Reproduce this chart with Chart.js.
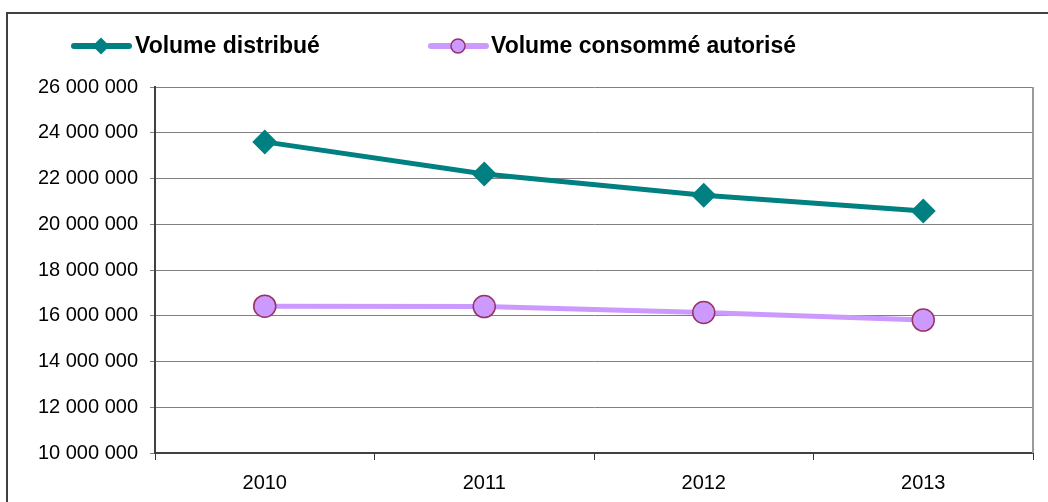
<!DOCTYPE html>
<html lang="fr">
<head>
  <meta charset="UTF-8">
  <title>Volume distribué / consommé</title>
  <script src="https://cdn.jsdelivr.net/npm/chart.js"></script>
  <style>
    body { margin: 0; background: #fff; }
    #wrap { position: relative; width: 1048px; height: 502px; overflow: hidden; }
    #frame { position: absolute; left: 6px; top: 12px; width: 1100px; height: 600px; border: 2px solid #404040; box-sizing: border-box; }
    canvas { position: absolute; left: 0; top: 0; }
  </style>
</head>
<body>
  <div id="wrap">
    <div id="frame"></div>
    <canvas id="volChart" width="1048" height="502"></canvas>
  </div>

  <script>
    const years = ['2010', '2011', '2012', '2013'];
    const volDistribue = [23600000, 22200000, 21270000, 20580000];
    const volConsomme = [16420000, 16400000, 16140000, 15810000];
    const yMin = 10000000;
    const yMax = 26000000;
    const yStep = 2000000;

    const teal = '#008080';
    const lilac = '#CC99FF';
    const plum = '#993366';
    const fontFam = '"Liberation Sans", Arial, sans-serif';

    // numbers like "26 000 000"
    function fmt(v) {
      return String(v).replace(/\B(?=(\d{3})+(?!\d))/g, ' ');
    }

    // legend drawn by hand: line through the marker, like the original
    const legendPlugin = {
      id: 'xlLegend',
      afterDraw(chart) {
        const c = chart.ctx;
        const y = 46;
        c.save();
        c.lineCap = 'round';
        // Volume distribué
        c.strokeStyle = teal; c.lineWidth = 6;
        c.beginPath(); c.moveTo(74, y); c.lineTo(129, y); c.stroke();
        c.fillStyle = teal;
        c.beginPath(); c.moveTo(101, y - 8.5); c.lineTo(109.5, y); c.lineTo(101, y + 8.5); c.lineTo(92.5, y); c.closePath(); c.fill();
        // Volume consommé autorisé
        c.strokeStyle = lilac;
        c.beginPath(); c.moveTo(431, y); c.lineTo(486, y); c.stroke();
        c.fillStyle = lilac; c.strokeStyle = plum; c.lineWidth = 1.5;
        c.beginPath(); c.arc(458, y, 7, 0, Math.PI * 2); c.fill(); c.stroke();
        c.fillStyle = '#000';
        c.font = 'bold 23px ' + fontFam;
        c.textBaseline = 'middle';
        c.fillText('Volume distribué', 135, y + 1);
        c.fillText('Volume consommé autorisé', 491, y + 1);
        c.restore();
      }
    };

    // grey right-hand border of the plot area
    const plotBorder = {
      id: 'plotBorder',
      afterDatasetsDraw(chart) {
        const a = chart.chartArea;
        const c = chart.ctx;
        c.save();
        c.strokeStyle = '#9a9a9a'; c.lineWidth = 2;
        c.beginPath(); c.moveTo(a.right, a.top); c.lineTo(a.right, a.bottom); c.stroke();
        c.restore();
      }
    };

    const ctx = document.getElementById('volChart');
    new Chart(ctx, {
      type: 'line',
      data: {
        labels: years,
        datasets: [{
          label: 'Volume distribué',
          data: volDistribue,
          borderColor: teal,
          backgroundColor: teal,
          borderWidth: 5,
          pointStyle: 'rectRot',
          pointRadius: 12.5,
          pointBorderWidth: 0,
          pointBackgroundColor: teal,
          tension: 0
        }, {
          label: 'Volume consommé autorisé',
          data: volConsomme,
          borderColor: lilac,
          backgroundColor: lilac,
          borderWidth: 5,
          pointStyle: 'circle',
          pointRadius: 11,
          pointBorderWidth: 1.5,
          pointBorderColor: plum,
          pointBackgroundColor: lilac,
          tension: 0
        }]
      },
      options: {
        responsive: false,
        animation: false,
        layout: { padding: { left: 0, right: 15, top: 87, bottom: 0 } },
        plugins: {
          legend: { display: false },
          tooltip: { enabled: false }
        },
        scales: {
          x: {
            offset: true,
            afterFit(axis) { axis.height -= 4; },
            grid: { offset: true, drawOnChartArea: false, tickLength: 7, color: '#333', lineWidth: 1 },
            border: { color: '#404040', width: 2 },
            ticks: { color: '#000', font: { size: 20, family: fontFam }, padding: 11 }
          },
          y: {
            min: yMin,
            max: yMax,
            afterFit(axis) { axis.width = 155; },
            grid: { color: '#808080', lineWidth: 1, tickLength: 5 },
            border: { color: '#404040', width: 2 },
            ticks: {
              stepSize: yStep,
              color: '#000',
              font: { size: 20, family: fontFam },
              padding: 12,
              callback: v => fmt(v)
            }
          }
        }
      },
      plugins: [legendPlugin, plotBorder]
    });
  </script>
</body>
</html>
